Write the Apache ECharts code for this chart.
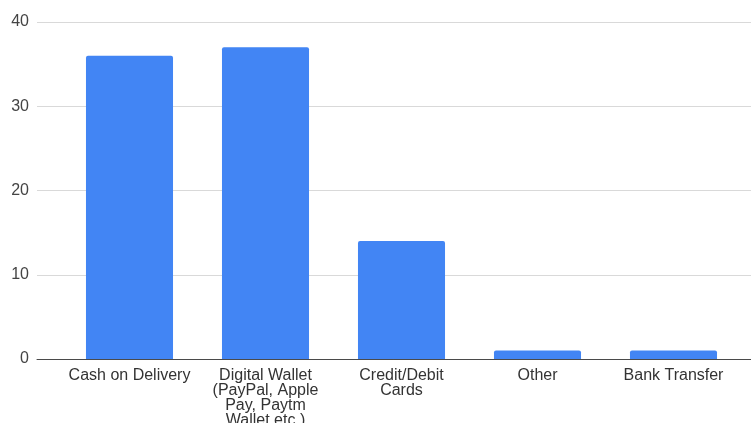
<!DOCTYPE html>
<html>
<head>
<meta charset="utf-8">
<script src="https://cdn.jsdelivr.net/npm/echarts@6/dist/echarts.min.js"></script>
<style>
html,body{margin:0;padding:0;background:#fff;}
#c{width:751px;height:423px;}
</style>
</head>
<body>
<div id="c"></div>
<script>
const categories = [
  "Cash on Delivery",
  "Digital Wallet\n(PayPal, Apple\nPay, Paytm\nWallet etc.)",
  "Credit/Debit\nCards",
  "Other",
  "Bank Transfer"
];
const values = [36, 37, 14, 1, 1];
const yMin = 0, yMax = 40, yStep = 10;

const chart = echarts.init(document.getElementById('c'), null, {renderer: 'canvas'});
const font = 'Arial, "Liberation Sans", sans-serif';
chart.setOption({
  animation: false,
  backgroundColor: '#ffffff',
  grid: [
    {left: 37, right: 0, top: 22, bottom: 64, containLabel: false, outerBoundsMode: 'none'},
    {left: 61.5, right: 9.5, top: 22, bottom: 64, containLabel: false, outerBoundsMode: 'none'}
  ],
  xAxis: [
    {
      gridIndex: 0, type: 'value', min: 0, max: 1,
      axisLine: {show: true, onZero: false, lineStyle: {color: '#4a4a4a', width: 1}},
      axisTick: {show: false}, axisLabel: {show: false}, splitLine: {show: false}
    },
    {
      gridIndex: 1, type: 'category', data: categories,
      axisLine: {show: false}, axisTick: {show: false},
      axisLabel: {
        interval: 0, margin: 8.5, fontSize: 16, lineHeight: 15.3,
        color: '#333333', fontFamily: font
      }
    }
  ],
  yAxis: [
    {
      gridIndex: 0, type: 'value', min: yMin, max: yMax, interval: yStep,
      axisLine: {show: false}, axisTick: {show: false},
      axisLabel: {margin: 8, fontSize: 16, color: '#444444', fontFamily: font, padding: [2, 0, 0, 0]},
      splitLine: {lineStyle: {color: '#d9d9d9', width: 1}}
    },
    {
      gridIndex: 1, type: 'value', min: yMin, max: yMax, interval: yStep,
      show: false, splitLine: {show: false}
    }
  ],
  series: [{
    type: 'bar',
    xAxisIndex: 1, yAxisIndex: 1,
    data: values,
    barCategoryGap: '36%',
    itemStyle: {color: '#4285F4', borderRadius: [2, 2, 0, 0]},
    z: 3
  }]
});
</script>
</body>
</html>
